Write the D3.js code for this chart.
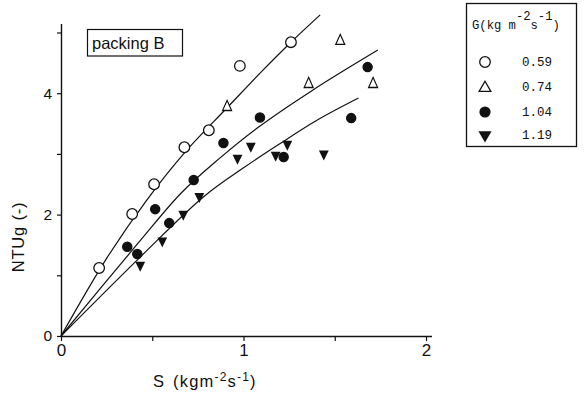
<!DOCTYPE html>
<html><head><meta charset="utf-8">
<script src="https://cdn.jsdelivr.net/npm/d3@7"></script>
<style>body{margin:0;background:#fff}svg{display:block}</style>
</head><body>
<script>
// ---- data ----
const seriesNames = ["0.59","0.74","1.04","1.19"];
const openCircleS = [0.209,0.39,0.51,0.676,0.81,0.98,1.26];
const openCircleN = [1.12,2.01,2.50,3.11,3.39,4.45,4.84];
const openTriS = [0.91,1.357,1.53,1.71];
const openTriN = [3.77,4.15,4.86,4.15];
const fillCircleS = [0.363,0.418,0.516,0.593,0.727,0.89,1.09,1.22,1.59,1.68];
const fillCircleN = [1.47,1.35,2.09,1.86,2.57,3.18,3.60,2.95,3.59,4.43];
const fillTriS = [0.434,0.555,0.67,0.758,0.967,1.04,1.176,1.24,1.44];
const fillTriN = [1.17,1.57,2.01,2.30,2.93,3.13,2.98,3.16,3.00];
// curves
const curveA_S = [0,0.25,0.47,0.68,0.91,1.1,1.26,1.42];
const curveA_N = [0,1.28,2.24,3.03,3.76,4.36,4.84,5.29];
const curveB_S = [0,0.42,0.66,0.87,1.077,1.379,1.736];
const curveB_N = [0,1.52,2.36,2.93,3.43,4.05,4.71];
const curveC_S = [0,0.434,0.78,1.0,1.19,1.40,1.63];
const curveC_N = [0,1.30,2.29,2.77,3.15,3.55,3.92];
const xTicks = [0,0.5,1,1.5,2];
const xTickLabels = ["0","","1","","2"];
const yTicks = [0,1,2,3,4,5];
const yTickLabels = ["0","","2","","4",""];

const W=584,H=393;
const svg=d3.select("body").append("svg").attr("width",W).attr("height",H);
const x=d3.scaleLinear().domain([0,2.03]).range([61,431.5]);
const y=d3.scaleLinear().domain([0,5.15]).range([336,23.4]);
const ink="#111";
const font="'Liberation Sans', Arial, sans-serif";

// axes
const xAxis=d3.axisBottom(x).tickValues(xTicks).tickFormat((d,i)=>xTickLabels[i]).tickSizeInner(5).tickSizeOuter(0).tickPadding(3);
const yAxis=d3.axisLeft(y).tickValues(yTicks).tickFormat((d,i)=>yTickLabels[i]).tickSizeInner(4).tickSizeOuter(0).tickPadding(5);
const gx=svg.append("g").attr("transform","translate(0,336)").call(xAxis);
const gy=svg.append("g").attr("transform","translate(61,0)").call(yAxis);
[gx,gy].forEach(g=>{
  g.select(".domain").attr("stroke",ink).attr("stroke-width",1.4);
  g.selectAll(".tick line").attr("stroke",ink).attr("stroke-width",1.2);
  g.selectAll(".tick text").attr("fill",ink).style("font-family",font);
});
gx.selectAll(".tick text").style("font-size","17px");
gy.selectAll(".tick text").style("font-size","15.5px");

// curves
const line=d3.line().x(d=>x(d[0])).y(d=>y(d[1])).curve(d3.curveCatmullRom.alpha(0.5));
[[curveA_S,curveA_N],[curveB_S,curveB_N],[curveC_S,curveC_N]].forEach(([s,n])=>{
  svg.append("path").datum(s.map((v,i)=>[v,n[i]])).attr("d",line)
    .attr("fill","none").attr("stroke",ink).attr("stroke-width",1.2);
});

// markers
const triUp=d3.symbol().type(d3.symbolTriangle).size(48);
const triDown=d3.symbol().type(d3.symbolTriangle).size(52);
function circles(S,N,r,filled){
  svg.append("g").selectAll("circle").data(S.map((v,i)=>[v,N[i]])).join("circle")
    .attr("cx",d=>x(d[0])).attr("cy",d=>y(d[1])).attr("r",r)
    .attr("fill",filled?ink:"#fff").attr("stroke",ink).attr("stroke-width",1.3);
}
circles(openCircleS,openCircleN,5.3,false);
circles(fillCircleS,fillCircleN,4.6,true);
svg.append("g").selectAll("path").data(openTriS.map((v,i)=>[v,openTriN[i]])).join("path")
  .attr("d",triUp).attr("transform",d=>`translate(${x(d[0])},${y(d[1])}) scale(0.85,1.1)`)
  .attr("fill","#fff").attr("stroke",ink).attr("stroke-width",1.3);
svg.append("g").selectAll("path").data(fillTriS.map((v,i)=>[v,fillTriN[i]])).join("path")
  .attr("d",triDown).attr("transform",d=>`translate(${x(d[0])},${y(d[1])}) rotate(180) scale(0.9,1.05)`)
  .attr("fill",ink);

// axis titles
svg.append("text").attr("x",153).attr("y",387)
  .style("font-family",font).style("font-size","16.5px").style("letter-spacing","1.2px").attr("fill",ink)
  .html('S <tspan dx="2">(kgm</tspan><tspan dy="-6" font-size="12px">-2</tspan><tspan dy="6">s</tspan><tspan dy="-6" font-size="12px">-1</tspan><tspan dy="6">)</tspan>');
svg.append("text").attr("transform","translate(24,237) rotate(-90)").attr("text-anchor","middle")
  .style("font-family",font).style("font-size","16.5px").style("letter-spacing","0.8px").attr("fill",ink).text("NTUg (-)");

// packing B box
svg.append("rect").attr("x",87.5).attr("y",29.5).attr("width",95).attr("height",26.5)
  .attr("fill","none").attr("stroke",ink).attr("stroke-width",1.2);
svg.append("text").attr("x",92).attr("y",48.5).style("font-family",font).style("font-size","16.5px")
  .attr("fill",ink).text("packing B");

// legend
const mono="'Liberation Mono','DejaVu Sans Mono',monospace";
svg.append("rect").attr("x",466.5).attr("y",3.5).attr("width",110).attr("height",143)
  .attr("fill","none").attr("stroke",ink).attr("stroke-width",1.3);
svg.append("text").attr("x",472).attr("y",29).style("font-family",mono).style("font-size","12.2px").attr("fill",ink)
  .html('G(kg m<tspan dy="-9">-2</tspan><tspan dy="9">s</tspan><tspan dy="-9">-1</tspan><tspan dy="9">)</tspan>');
const ly=[62,87,112,135];
const lg=svg.append("g");
lg.append("circle").attr("cx",485).attr("cy",ly[0]).attr("r",5.3).attr("fill","#fff").attr("stroke",ink).attr("stroke-width",1.3);
lg.append("path").attr("d",d3.symbol().type(d3.symbolTriangle).size(60)).attr("transform",`translate(485,${ly[1]+1})`).attr("fill","#fff").attr("stroke",ink).attr("stroke-width",1.3);
lg.append("circle").attr("cx",485).attr("cy",ly[2]).attr("r",5.6).attr("fill",ink);
lg.append("path").attr("d",d3.symbol().type(d3.symbolTriangle).size(75)).attr("transform",`translate(485,${ly[3]}) rotate(180)`).attr("fill",ink);
lg.selectAll("text.v").data(seriesNames).join("text").attr("class","v")
  .attr("x",522).attr("y",(d,i)=>ly[i]+4).style("font-family",mono).style("font-size","12.5px").attr("fill",ink).text(d=>d);
</script>
</body></html>
